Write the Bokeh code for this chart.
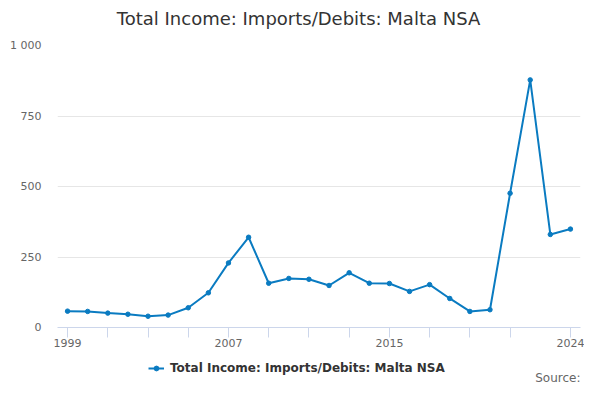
import numpy as np
from bokeh.plotting import figure
from bokeh.layouts import column
from bokeh.models import Range1d, FixedTicker, Legend, LegendItem
from bokeh.core.properties import value
from bokeh.embed import file_html
from bokeh.resources import INLINE

years = list(range(1999, 2025))
values = [58, 57, 51, 47, 40, 44, 70, 123, 229, 320, 157, 174, 171, 149, 194,
          157, 156, 128, 152, 103, 57, 63, 476, 878, 330, 349]
series_name = "Total Income: Imports/Debits: Malta NSA"
title_text = "Total Income: Imports/Debits: Malta NSA"
source_text = "Source:"
x_tick_positions = [1999, 2001, 2003, 2005, 2007, 2009, 2011, 2013, 2015, 2017, 2019, 2021, 2024]
x_tick_labels = {1999: "1999", 2007: "2007", 2015: "2015", 2024: "2024"}
y_ticks = [0, 250, 500, 750, 1000]
y_tick_labels = {0: "0", 250: "250", 500: "500", 750: "750", 1000: "1 000"}

FONT = "DejaVu Sans"
COLOR = "#0a7bc1"
W = 584
LEFT, RIGHT = 57, 4


def strip(height):
    """A figure used only as a text strip; its frame aligns with the main one,
    so its x range is expressed in page pixels."""
    s = figure(width=W, height=height, min_border=0,
               min_border_left=LEFT, min_border_right=RIGHT,
               x_range=Range1d(LEFT, W - RIGHT), y_range=Range1d(0, height),
               output_backend="svg", toolbar_location=None)
    s.axis.visible = False
    s.grid.visible = False
    s.outline_line_color = None
    s.border_fill_color = "white"
    s.background_fill_color = "white"
    return s


# header: title
HH = 37
h = strip(HH)
h.text(x=[298], y=[HH - 18], text=[title_text], text_align="center", text_baseline="middle",
       text_font=value(FONT), text_font_size="18px", text_color="#333333")

# main chart
p = figure(width=W, height=316,
           min_border_left=LEFT, min_border_right=RIGHT, min_border_top=8, min_border_bottom=26,
           x_range=Range1d(1998.5, 2024.5), y_range=Range1d(0, 1000),
           output_backend="svg", toolbar_location=None)
p.outline_line_color = None
p.background_fill_color = "white"
p.border_fill_color = "white"

p.line(years, values, line_color=COLOR, line_width=2)
p.scatter(years, values, size=4.5, fill_color=COLOR, line_color=COLOR)

xa = p.xaxis[0]
xa.ticker = FixedTicker(ticks=x_tick_positions)
xa.major_label_overrides = {t: x_tick_labels.get(t, "") for t in x_tick_positions}
xa.axis_line_color = "#ccd6eb"
xa.major_tick_line_color = "#ccd6eb"
xa.major_tick_in = 0
xa.major_tick_out = 10
xa.minor_tick_line_color = None
xa.major_label_text_font = FONT
xa.major_label_text_font_size = "11px"
xa.major_label_text_color = "#666666"
xa.major_label_standoff = 1
p.xgrid.grid_line_color = None

ya = p.yaxis[0]
ya.ticker = FixedTicker(ticks=y_ticks)
ya.major_label_overrides = {t: y_tick_labels[t] for t in y_ticks}
ya.axis_line_color = None
ya.major_tick_line_color = None
ya.minor_tick_line_color = None
ya.major_tick_out = 0
ya.major_tick_in = 0
ya.major_label_standoff = 16
ya.major_label_text_font = FONT
ya.major_label_text_font_size = "11px"
ya.major_label_text_color = "#666666"
p.ygrid.grid_line_color = "#e6e6e6"
p.ygrid.ticker = FixedTicker(ticks=y_ticks)

# footer: legend + source
FH = 31
f = strip(FH)
lr = f.line(x=np.array([np.nan]), y=np.array([np.nan]), line_color=COLOR, line_width=2)
sr = f.scatter(x=np.array([np.nan]), y=np.array([np.nan]), size=4.5,
               fill_color=COLOR, line_color=COLOR)
legend = Legend(items=[LegendItem(label=series_name, renderers=[lr, sr])],
                location=(148 - LEFT, 9), orientation="horizontal",
                label_text_font=FONT, label_text_font_size="12px",
                label_text_font_style="bold", label_text_color="#333333",
                glyph_width=16, glyph_height=12, label_standoff=6,
                border_line_color=None, background_fill_alpha=0,
                padding=0, margin=0, spacing=0)
f.add_layout(legend)

f.text(x=[W - RIGHT], y=[7], text=[source_text], text_align="right", text_baseline="middle",
       text_font=value(FONT), text_font_size="12px", text_color="#666666")

layout = column(h, p, f, spacing=0)
open("out.html", "w").write(file_html(layout, INLINE))
